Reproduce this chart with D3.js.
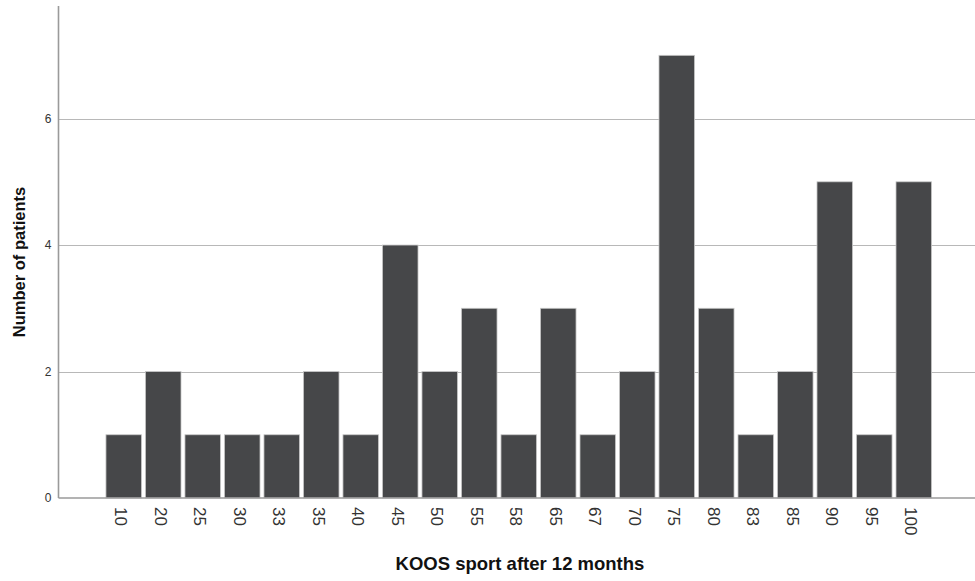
<!DOCTYPE html>
<html>
<head>
<meta charset="utf-8">
<script src="https://cdn.jsdelivr.net/npm/d3@7"></script>
<style>
  body { margin: 0; background: #fff; }
  svg { display: block; font-family: "Liberation Sans", Arial, sans-serif; }
</style>
</head>
<body>
<div></div>
<script>
// datos del grafico
var scores = ['10','20','25','30','33','35','40','45','50','55','58','65','67','70','75','80','83','85','90','95','100'];
var patients = [1,2,1,1,1,2,1,4,2,3,1,3,1,2,7,3,1,2,5,1,5];
var yTicks = [0,2,4,6];

var w = 975, h = 581;
var plotLeft = 58.5, plotRight = 975, plotTop = 6, plotBottom = 498;

var svg = d3.select('div').append('svg')
    .attr('width', w)
    .attr('height', h);

var data = scores.map((s, i) => ({score: s, n: patients[i]}));

// escalas
var x = d3.scaleBand()
    .domain(scores)
    .range([plotLeft + 4, plotRight])
    .paddingInner(0.1)
    .paddingOuter(1.1);

var y = d3.scaleLinear()
    .domain([0, 7.78])
    .range([plotBottom, plotTop]);

// lineas de referencia
svg.append('g')
    .selectAll('line')
    .data(yTicks.filter(d => d > 0))
    .enter()
    .append('line')
    .attr('x1', plotLeft)
    .attr('x2', plotRight)
    .attr('y1', d => Math.round(y(d)) + 0.5)
    .attr('y2', d => Math.round(y(d)) + 0.5)
    .attr('stroke', '#b8b8b8')
    .attr('stroke-width', 1);

// barras
svg.append('g')
    .selectAll('rect')
    .data(data)
    .enter()
    .append('rect')
    .attr('x', d => x(d.score))
    .attr('y', d => y(d.n))
    .attr('width', x.bandwidth())
    .attr('height', d => plotBottom - y(d.n))
    .attr('fill', '#464749')
    .attr('stroke', '#c8c8c8')
    .attr('stroke-width', 0.8);

// ejes
svg.append('line')
    .attr('x1', plotLeft).attr('x2', plotLeft)
    .attr('y1', plotTop).attr('y2', plotBottom)
    .attr('stroke', '#9a9a9a')
    .attr('stroke-width', 1.6);

svg.append('line')
    .attr('x1', plotLeft).attr('x2', plotRight)
    .attr('y1', plotBottom).attr('y2', plotBottom)
    .attr('stroke', '#9a9a9a')
    .attr('stroke-width', 1.4);

var yaxis = d3.axisLeft(y).tickValues(yTicks).tickSize(0).tickPadding(0);
var gy = svg.append('g')
    .attr('transform', 'translate(' + (plotLeft - 7) + ',0)')
    .call(yaxis);
gy.select('.domain').remove();
gy.selectAll('text')
    .attr('font-size', 12)
    .attr('fill', '#333')
    .attr('font-family', '"Liberation Sans", Arial, sans-serif');

var xaxis = d3.axisBottom(x).tickSize(0).tickPadding(0);
var gx = svg.append('g')
    .attr('transform', 'translate(0,' + plotBottom + ')')
    .call(xaxis);
gx.select('.domain').remove();
gx.selectAll('text')
    .attr('font-size', 17)
    .attr('fill', '#333')
    .attr('font-family', '"Liberation Sans", Arial, sans-serif')
    .attr('text-anchor', 'start')
    .attr('transform', 'rotate(90)')
    .attr('x', 9)
    .attr('y', 0)
    .attr('dy', '0.5em');

// titulos
svg.append('text')
    .attr('x', 520)
    .attr('y', 570)
    .attr('text-anchor', 'middle')
    .attr('font-size', 18.5)
    .attr('font-weight', 'bold')
    .attr('fill', '#111')
    .text('KOOS sport after 12 months');

svg.append('text')
    .attr('transform', 'translate(25,262) rotate(-90)')
    .attr('text-anchor', 'middle')
    .attr('font-size', 16.5)
    .attr('font-weight', 'bold')
    .attr('fill', '#111')
    .text('Number of patients');
</script>
</body>
</html>
